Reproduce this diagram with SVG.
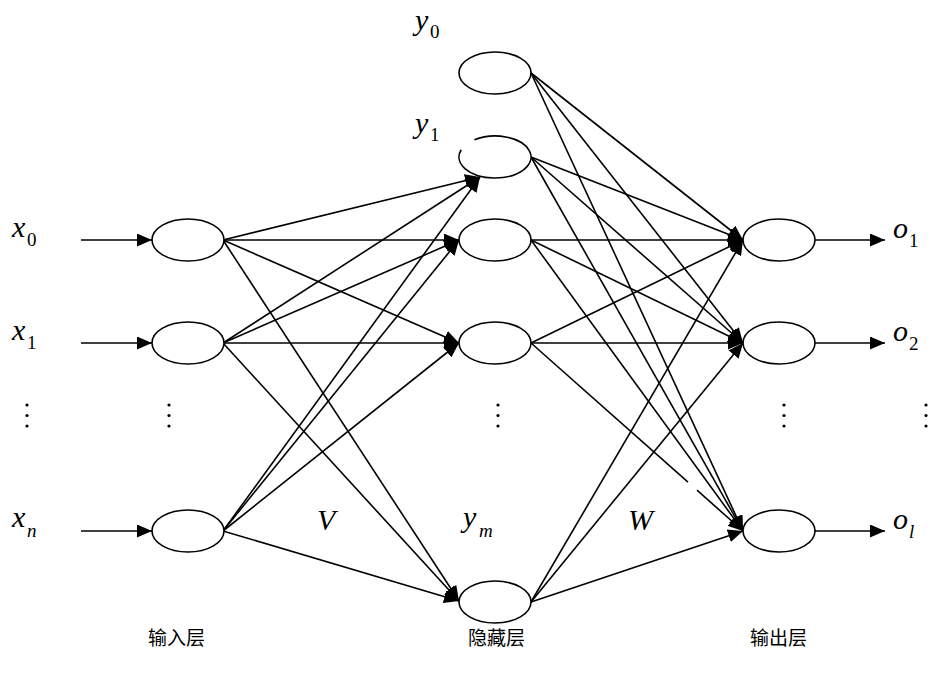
<svg xmlns="http://www.w3.org/2000/svg" width="936" height="677" viewBox="0 0 936 677">
<style>
.node{fill:#fff;stroke:#000;stroke-width:1.6}
.c line{stroke:#000;stroke-width:1.6;fill:none}
.a{marker-end:url(#ah)}
.it{font-family:"Liberation Serif","Times New Roman",serif;font-style:italic;font-size:30px;fill:#000}
.sub{font-family:"Liberation Serif","Times New Roman",serif;font-size:19px;fill:#000}
.subi{font-family:"Liberation Serif","Times New Roman",serif;font-style:italic;font-size:19px;fill:#000}
.cn{font-family:"Noto Sans CJK SC",sans-serif;font-size:19px;fill:#000}
.dot{fill:#000}
</style>
<defs>
<marker id="ah" markerUnits="userSpaceOnUse" markerWidth="16" markerHeight="13" refX="15" refY="6.5" orient="auto">
<path d="M0,0 L15,6.5 L0,13 z" fill="#000"/>
</marker>
</defs>
<g id="connectors" class="c">
<line class="a" x1="81" y1="240" x2="152" y2="240"/>
<line class="a" x1="81" y1="343" x2="152" y2="343"/>
<line class="a" x1="81" y1="531" x2="152" y2="531"/>
<line class="a" x1="223" y1="240" x2="480" y2="177"/>
<line class="a" x1="223" y1="240" x2="459" y2="240"/>
<line class="a" x1="223" y1="240" x2="459" y2="343"/>
<line class="a" x1="223" y1="240" x2="459" y2="601"/>
<line class="a" x1="223" y1="343" x2="480" y2="177"/>
<line class="a" x1="223" y1="343" x2="459" y2="240"/>
<line class="a" x1="223" y1="343" x2="459" y2="343"/>
<line class="a" x1="223" y1="343" x2="459" y2="601"/>
<line class="a" x1="223" y1="531" x2="480" y2="177"/>
<line class="a" x1="223" y1="531" x2="459" y2="240"/>
<line class="a" x1="223" y1="531" x2="459" y2="343"/>
<line class="a" x1="223" y1="531" x2="459" y2="601"/>
<line class="a" x1="531" y1="73" x2="743" y2="240"/>
<line class="a" x1="531" y1="73" x2="743" y2="343"/>
<line class="a" x1="531" y1="73" x2="743" y2="531"/>
<line class="a" x1="531" y1="157" x2="743" y2="240"/>
<line class="a" x1="531" y1="157" x2="743" y2="343"/>
<line class="a" x1="531" y1="157" x2="743" y2="531"/>
<line class="a" x1="531" y1="240" x2="743" y2="240"/>
<line class="a" x1="531" y1="240" x2="743" y2="343"/>
<line class="a" x1="531" y1="240" x2="743" y2="531"/>
<line class="a" x1="531" y1="343" x2="743" y2="240"/>
<line class="a" x1="531" y1="343" x2="743" y2="343"/>
<line x1="531" y1="343" x2="688" y2="482.2"/>
<line class="a" x1="697" y1="490.2" x2="743" y2="531"/>
<line class="a" x1="531" y1="602" x2="743" y2="240"/>
<line class="a" x1="531" y1="602" x2="743" y2="343"/>
<line class="a" x1="531" y1="602" x2="743" y2="531"/>
<line class="a" x1="815" y1="240" x2="885" y2="240"/>
<line class="a" x1="815" y1="343" x2="885" y2="343"/>
<line class="a" x1="815" y1="531" x2="885" y2="531"/>
</g>
<g id="in0"><ellipse class="node" cx="188" cy="240" rx="36" ry="21"/></g>
<g id="in1"><ellipse class="node" cx="188" cy="343" rx="36" ry="21"/></g>
<g id="inn"><ellipse class="node" cx="188" cy="531" rx="36" ry="21"/></g>
<g id="h0"><ellipse class="node" cx="495" cy="73" rx="36" ry="21"/></g>
<g id="h1"><path class="node" d="M474.4,139.8 A36,21 0 1 1 461.2,149.8"/></g>
<g id="h2"><ellipse class="node" cx="495" cy="240" rx="36" ry="21"/></g>
<g id="h3"><ellipse class="node" cx="495" cy="343" rx="36" ry="21"/></g>
<g id="hm"><ellipse class="node" cx="495" cy="602" rx="36" ry="21"/></g>
<g id="o1n"><ellipse class="node" cx="779" cy="240" rx="36" ry="21"/></g>
<g id="o2n"><ellipse class="node" cx="779" cy="343" rx="36" ry="21"/></g>
<g id="oln"><ellipse class="node" cx="779" cy="531" rx="36" ry="21"/></g>
<g id="dots">
<circle class="dot" cx="27" cy="405" r="1.6"/><circle class="dot" cx="27" cy="415.5" r="1.6"/><circle class="dot" cx="27" cy="426" r="1.6"/>
<circle class="dot" cx="169" cy="405" r="1.6"/><circle class="dot" cx="169" cy="415.5" r="1.6"/><circle class="dot" cx="169" cy="426" r="1.6"/>
<circle class="dot" cx="498" cy="405" r="1.6"/><circle class="dot" cx="498" cy="415.5" r="1.6"/><circle class="dot" cx="498" cy="426" r="1.6"/>
<circle class="dot" cx="784" cy="405" r="1.6"/><circle class="dot" cx="784" cy="415.5" r="1.6"/><circle class="dot" cx="784" cy="426" r="1.6"/>
<circle class="dot" cx="926" cy="405" r="1.6"/><circle class="dot" cx="926" cy="415.5" r="1.6"/><circle class="dot" cx="926" cy="426" r="1.6"/>
</g>
<g id="labels">
<text class="it" x="12" y="237">x</text><text class="sub" x="27" y="246">0</text>
<text class="it" x="12" y="340">x</text><text class="sub" x="27" y="349">1</text>
<text class="it" x="12" y="527">x</text><text class="subi" x="27" y="537">n</text>
<text class="it" x="415" y="30">y</text><text class="sub" x="430" y="38">0</text>
<text class="it" x="415" y="133">y</text><text class="sub" x="430" y="141">1</text>
<text class="it" x="317" y="530">V</text>
<text class="it" x="463" y="527">y</text><text class="subi" x="479" y="537">m</text>
<text class="it" x="628" y="530">W</text>
<text class="it" x="893" y="238">o</text><text class="sub" x="909" y="247">1</text>
<text class="it" x="893" y="341">o</text><text class="sub" x="909" y="350">2</text>
<text class="it" x="893" y="529">o</text><text class="subi" x="909" y="538">l</text>
<text class="cn" x="148" y="645">输入层</text>
<text class="cn" x="468" y="645">隐藏层</text>
<text class="cn" x="750" y="645">输出层</text>
</g>
</svg>
